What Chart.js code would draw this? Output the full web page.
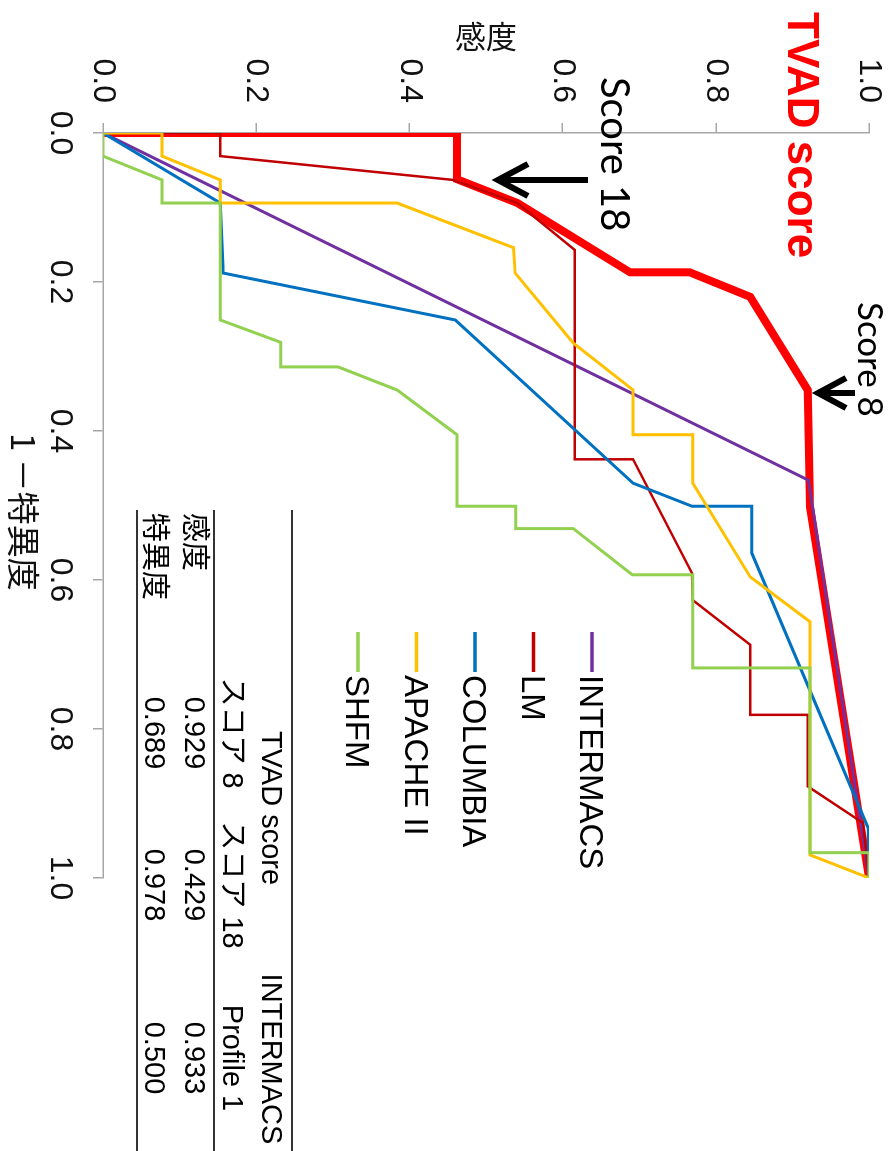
<!DOCTYPE html>
<html><head><meta charset="utf-8">
<script src="https://cdn.jsdelivr.net/npm/chart.js@4.4.0/dist/chart.umd.min.js"></script>
<style>
html,body{margin:0;padding:0;background:#fff;overflow:hidden;width:896px;height:1151px;}
#wrap{position:absolute;left:0;top:0;width:1151px;height:896px;transform-origin:0 0;transform:translate(896px,0) rotate(90deg);background:#fff;}
canvas{display:block;}
</style></head><body>
<div id="wrap"><canvas id="c" width="1151" height="896"></canvas></div>
<script>
// ---- tick labels ----
const tickValues = [0, 0.2, 0.4, 0.6, 0.8, 1.0];
const tickLabels = ['0.0', '0.2', '0.4', '0.6', '0.8', '1.0'];
const xTitle = '1 －特異度';
const yTitle = '感度';
const chartTitle = 'TVAD score';

// ---- series (x = 1 - specificity, y = sensitivity) ----
const tvadFpr  = [0, 0, 0.062, 0.094, 0.187, 0.187, 0.220, 0.345, 0.502, 1];
const tvadSens = [0, 0.462, 0.462, 0.541, 0.688, 0.766, 0.845, 0.920, 0.923, 1];

const intermacsFpr  = [0, 0.466, 1];
const intermacsSens = [0, 0.921, 1];

const lmFpr  = [0, 0, 0.031, 0.063, 0.094, 0.157, 0.438, 0.438, 0.591, 0.627, 0.687, 0.781, 0.781, 0.877, 0.926, 1];
const lmSens = [0, 0.153, 0.153, 0.457, 0.541, 0.616, 0.616, 0.692, 0.769, 0.770, 0.845, 0.845, 0.920, 0.920, 0.992, 1];

const columbiaFpr  = [0, 0.094, 0.188, 0.251, 0.470, 0.501, 0.501, 0.564, 0.933, 1];
const columbiaSens = [0, 0.153, 0.157, 0.460, 0.692, 0.769, 0.847, 0.847, 0.999, 1];

const apacheFpr  = [0, 0, 0.031, 0.063, 0.094, 0.094, 0.154, 0.188, 0.282, 0.345, 0.405, 0.405, 0.470, 0.596, 0.656, 0.969, 1];
const apacheSens = [0, 0.077, 0.077, 0.153, 0.153, 0.384, 0.536, 0.538, 0.614, 0.692, 0.692, 0.770, 0.770, 0.845, 0.923, 0.923, 1];

const shfmFpr  = [0, 0.031, 0.063, 0.094, 0.094, 0.251, 0.281, 0.314, 0.314, 0.345, 0.405, 0.501, 0.501, 0.531, 0.531, 0.593, 0.593, 0.718, 0.718, 0.966, 0.966, 1];
const shfmSens = [0, 0, 0.077, 0.077, 0.153, 0.153, 0.232, 0.232, 0.307, 0.384, 0.462, 0.462, 0.539, 0.539, 0.614, 0.691, 0.770, 0.770, 0.923, 0.923, 1, 1];

// ---- legend & table text ----
const legendNames = ['INTERMACS', 'LM', 'COLUMBIA', 'APACHE II', 'SHFM'];
const tableGroupHeaders = ['TVAD score', 'INTERMACS'];
const tableColHeaders = ['スコア 8', 'スコア 18', 'Profile 1'];
const tableRowLabels = ['感度', '特異度'];
const tableSensitivity = [0.929, 0.429, 0.933];
const tableSpecificity = [0.689, 0.978, 0.500];
const annotationLabels = ['Score 18', 'Score 8'];

// ---- styles ----
const styles = {
  'TVAD score': {color: '#FF0000', width: 8, order: 6},
  'INTERMACS': {color: '#7030A0', width: 3, order: 5},
  'LM': {color: '#C00000', width: 2.5, order: 4},
  'COLUMBIA': {color: '#0070C0', width: 3, order: 3},
  'APACHE II': {color: '#FFC000', width: 3, order: 2},
  'SHFM': {color: '#92D050', width: 3, order: 1}
};

const seriesData = [
  ['TVAD score', tvadFpr, tvadSens],
  ['INTERMACS', intermacsFpr, intermacsSens],
  ['LM', lmFpr, lmSens],
  ['COLUMBIA', columbiaFpr, columbiaSens],
  ['APACHE II', apacheFpr, apacheSens],
  ['SHFM', shfmFpr, shfmSens]
];

const datasets = seriesData.map(([name, xs, ys]) => ({
  label: name,
  data: xs.map((x, i) => ({x: x, y: ys[i]})),
  borderColor: styles[name].color,
  backgroundColor: styles[name].color,
  borderWidth: styles[name].width,
  order: styles[name].order,
  pointRadius: 0,
  tension: 0,
  fill: false,
  clip: 0
}));

const LAT = '"Liberation Sans", Arial, "Noto Sans CJK JP", sans-serif';
const CJK = '"Noto Sans CJK JP", "Liberation Sans", sans-serif';
const AXIS = '#A6A6A6';

function tickCb(v) {
  const i = tickValues.findIndex(t => Math.abs(t - v) < 1e-9);
  return i >= 0 ? tickLabels[i] : '';
}

function drawArrow(ctx, x, yTail, yTip, wing, spread) {
  ctx.beginPath();
  ctx.moveTo(x, yTail);
  ctx.lineTo(x, yTip - 2);
  ctx.stroke();
  ctx.beginPath();
  ctx.moveTo(x - spread, yTip - wing);
  ctx.lineTo(x, yTip);
  ctx.lineTo(x + spread, yTip - wing);
  ctx.stroke();
}

const annotPlugin = {
  id: 'annot',
  afterDraw(chart) {
    const ctx = chart.ctx;
    ctx.save();
    ctx.textAlign = 'left';
    ctx.textBaseline = 'alphabetic';

    // title
    ctx.fillStyle = '#FF0000';
    ctx.font = 'bold 44px ' + LAT;
    ctx.fillText(chartTitle, 12, 108);

    // x-axis title
    ctx.fillStyle = '#111';
    ctx.font = '33px ' + CJK;
    ctx.fillText(xTitle, 433, 885);

    // score annotations
    ctx.fillStyle = '#000';
    ctx.font = '40px Lato, "Open Sans", sans-serif';
    ctx.fillText(annotationLabels[0], 77, 295);
    ctx.font = '35px Lato, "Open Sans", sans-serif';
    ctx.fillText(annotationLabels[1], 302, 38);

    // arrows
    ctx.strokeStyle = '#000';
    ctx.lineWidth = 6;
    ctx.lineJoin = 'miter';
    ctx.lineCap = 'butt';
    drawArrow(ctx, 180, 308, 398, 30, 16);
    drawArrow(ctx, 393, 41, 78, 28, 15);

    // legend
    legendNames.forEach((n, i) => {
      const y = 304 + i * 58.5;
      ctx.strokeStyle = styles[n].color;
      ctx.lineWidth = 3.5;
      ctx.beginPath();
      ctx.moveTo(632, y);
      ctx.lineTo(672, y);
      ctx.stroke();
      ctx.fillStyle = '#000';
      ctx.font = '33px ' + LAT;
      ctx.fillText(n, 675, y + 11.5);
    });

    // table
    ctx.strokeStyle = '#333';
    ctx.lineWidth = 2;
    [604, 682, 759].forEach(y => {
      ctx.beginPath();
      ctx.moveTo(510, y);
      ctx.lineTo(1151, y);
      ctx.stroke();
    });
    ctx.fillStyle = '#000';
    ctx.font = '29px ' + LAT;
    ctx.textAlign = 'center';
    ctx.fillText(tableGroupHeaders[0], 808, 634);
    ctx.fillText(tableGroupHeaders[1], 1059, 634);
    const colX = [733, 885, 1058];
    tableColHeaders.forEach((h, i) => ctx.fillText(h, colX[i], 673));
    tableSensitivity.forEach((v, i) => ctx.fillText(v.toFixed(3), colX[i], 711));
    tableSpecificity.forEach((v, i) => ctx.fillText(v.toFixed(3), colX[i], 751));
    ctx.textAlign = 'left';
    ctx.font = '29px ' + CJK;
    ctx.fillText(tableRowLabels[0], 513, 711);
    ctx.fillText(tableRowLabels[1], 513, 751);
    ctx.restore();
  }
};

new Chart(document.getElementById('c'), {
  type: 'line',
  data: {datasets: datasets},
  plugins: [annotPlugin],
  options: {
    responsive: false,
    animation: false,
    devicePixelRatio: 1,
    events: [],
    layout: {padding: {left: 0, top: 27, right: 273, bottom: 0}},
    plugins: {legend: {display: false}, tooltip: {enabled: false}},
    scales: {
      x: {
        type: 'linear', min: 0, max: 1,
        afterBuildTicks: s => { s.ticks = tickValues.map(v => ({value: v})); },
        afterFit: s => { s.height = 103; s.paddingTop = 0; s.paddingBottom = 0; },
        grid: {display: true, drawOnChartArea: false, drawTicks: true, tickLength: 10, color: AXIS, lineWidth: 1.5},
        border: {display: true, color: AXIS, width: 1.5},
        ticks: {callback: tickCb, font: {family: LAT, size: 32}, color: '#111', padding: 14, maxRotation: 0, autoSkip: false},
        title: {display: false, text: xTitle}
      },
      y: {
        type: 'linear', min: 0, max: 1,
        afterBuildTicks: s => { s.ticks = tickValues.map(v => ({value: v})); },
        afterFit: s => { s.width = 133; s.paddingTop = 0; s.paddingBottom = 0; },
        grid: {display: true, drawOnChartArea: false, drawTicks: true, tickLength: 10, color: AXIS, lineWidth: 1.5},
        border: {display: true, color: AXIS, width: 1.5},
        ticks: {callback: tickCb, font: {family: LAT, size: 32}, color: '#111', padding: 20, autoSkip: false},
        title: {display: true, text: yTitle, font: {family: CJK, size: 31}, color: '#111', padding: {top: 18, bottom: 0}}
      }
    }
  }
});
</script>
</body></html>
